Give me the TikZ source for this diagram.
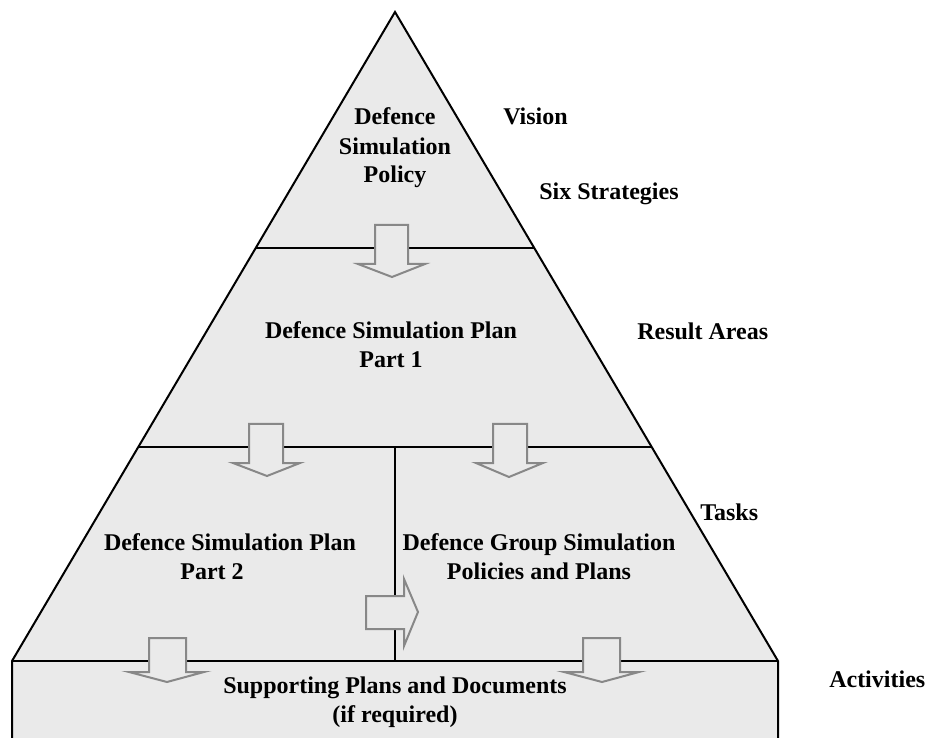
\documentclass[tikz,border=0pt]{standalone}
\usepackage{fontspec}
\setmainfont{Liberation Serif}
\definecolor{boxfill}{HTML}{EAEAEA}
\definecolor{arrowgray}{HTML}{888888}
\begin{document}
\begin{tikzpicture}[x=0.75pt,y=-0.75pt,
  edge/.style={draw=black,line width=1.5pt},
  blockarrow/.style={draw=arrowgray,fill=boxfill,line width=1.5pt,line join=miter},
  lbl/.style={font=\bfseries\fontsize{18pt}{21pt}\selectfont,anchor=base,inner sep=0pt}]
\useasboundingbox (0,0) rectangle (926,738);
% coordinates
\coordinate (apex) at (395,12);
\coordinate (bl) at (12,661);
\coordinate (br) at (778,661);
\coordinate (l1a) at (256,248);
\coordinate (l1b) at (534,248);
\coordinate (l2a) at (138,447);
\coordinate (l2b) at (652,447);
\coordinate (vtop) at (395,447);
\coordinate (vbot) at (395,661);
\coordinate (rbl) at (12,740);
\coordinate (rbr) at (778,740);
% shapes
\fill[boxfill] (apex) -- (br) -- (rbr) -- (rbl) -- (bl) -- cycle;
\draw[edge,line join=miter] (rbl) -- (bl) -- (apex) -- (br) -- (rbr);
\draw[edge] (bl) -- (br);
\draw[edge] (l1a) -- (l1b);
\draw[edge] (l2a) -- (l2b);
\draw[edge] (vtop) -- (vbot);
% block arrows
\draw[blockarrow] (375,225) -- (408,225) -- (408,264) -- (425,264) -- (392,277) -- (358,264) -- (375,264) -- cycle;
\draw[blockarrow] (249,424) -- (283,424) -- (283,463) -- (300,463) -- (267,476) -- (233,463) -- (249,463) -- cycle;
\draw[blockarrow] (493,424) -- (527,424) -- (527,463) -- (543,463) -- (509,477) -- (476,463) -- (493,463) -- cycle;
\draw[blockarrow] (149,638) -- (186,638) -- (186,672) -- (204,672) -- (167,682) -- (129,672) -- (149,672) -- cycle;
\draw[blockarrow] (583,638) -- (620,638) -- (620,672) -- (639,672) -- (602,682) -- (564,672) -- (583,672) -- cycle;
\draw[blockarrow] (366,596) -- (404,596) -- (404,579) -- (418,612) -- (404,646) -- (404,629) -- (366,629) -- cycle;
% texts
\node[lbl] (pol1) at (395,125) {Defence};
\node[lbl] (pol2) at (395,155) {Simulation};
\node[lbl] (pol3) at (395,183) {Policy};
\node[lbl,anchor=base west] (vision) at (503,125) {Vision};
\node[lbl,anchor=base west] (six) at (539,200) {Six Strategies};
\node[lbl] (p1a) at (391,339) {Defence Simulation Plan};
\node[lbl] (p1b) at (391,368) {Part 1};
\node[lbl,anchor=base west] (result) at (637,340) {Result Areas};
\node[lbl,anchor=base west] (tasks) at (700,520) {Tasks};
\node[lbl] (p2a) at (230,550) {Defence Simulation Plan};
\node[lbl] (p2b) at (212,579) {Part 2};
\node[lbl] (g1) at (539,550) {Defence Group Simulation};
\node[lbl] (g2) at (539,579) {Policies and Plans};
\node[lbl] (sup1) at (395,693) {Supporting Plans and Documents};
\node[lbl] (sup2) at (395,722) {(if required)};
\node[lbl,anchor=base west] (act) at (829,687) {Activities};
\end{tikzpicture}
\end{document}
